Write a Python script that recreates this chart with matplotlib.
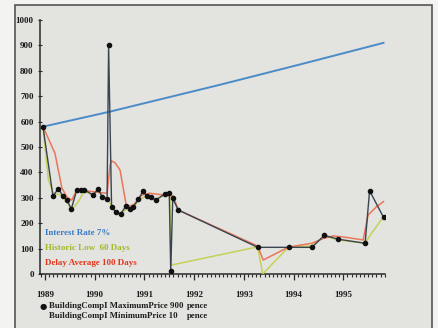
"""
Building company share price with interest rate, historic low and delay average
"""

import matplotlib

matplotlib.use("Agg")
from matplotlib import pyplot as plt
from matplotlib.patches import Rectangle
from matplotlib.ticker import MultipleLocator

# share price in pence, dates as fractional years
PRICE_DATES = [
    1988.96, 1989.16, 1989.27, 1989.36, 1989.44, 1989.53, 1989.64, 1989.72,
    1989.79, 1989.97, 1990.07, 1990.15, 1990.25, 1990.28, 1990.34, 1990.43,
    1990.52, 1990.63, 1990.71, 1990.78, 1990.88, 1990.97, 1991.05, 1991.14,
    1991.23, 1991.41, 1991.50, 1991.53, 1991.57, 1991.68, 1993.28, 1993.90,
    1994.37, 1994.62, 1994.90, 1995.44, 1995.53, 1995.81,
]
PRICE = [
    580, 307, 336, 307, 291, 256, 331, 331,
    331, 311, 336, 303, 295, 900, 263, 243,
    236, 268, 257, 265, 294, 326, 307, 302,
    291, 315, 320, 10, 298, 252, 105, 105,
    105, 152, 137, 121, 328, 223,
]

INTEREST_DATES = [1988.96, 1990.28, 1992.52, 1994.13, 1995.81]
INTEREST = [580, 638, 745, 825, 910]

LOW_DATES = [
    1988.96, 1989.07, 1989.17, 1989.34, 1989.44, 1989.54, 1989.67, 1989.79,
    1989.97, 1990.07, 1990.19, 1990.27, 1990.43, 1990.53, 1990.63, 1990.77,
    1990.91, 1991.03, 1991.21, 1991.41, 1991.51, 1991.54, 1993.28, 1993.38,
    1993.90, 1994.37, 1994.62, 1994.90, 1995.44, 1995.57, 1995.81,
]
LOW = [
    580, 370, 318, 310, 285, 252, 285, 325,
    311, 330, 300, 290, 243, 236, 255, 262,
    295, 305, 292, 312, 318, 35, 107, 0,
    106, 110, 150, 134, 121, 161, 225,
]

AVERAGE_DATES = [
    1988.96, 1989.20, 1989.34, 1989.44, 1989.54, 1989.64, 1989.97, 1990.14,
    1990.25, 1990.31, 1990.34, 1990.41, 1990.51, 1990.64, 1990.78, 1990.95,
    1991.11, 1991.38, 1991.58, 1991.68, 1993.28, 1993.39, 1993.90, 1994.37,
    1994.60, 1994.80, 1995.07, 1995.40, 1995.50, 1995.67, 1995.81,
]
AVERAGE = [
    580, 476, 339, 303, 291, 331, 324, 320,
    318, 430, 445, 438, 409, 265, 272, 311,
    318, 311, 307, 252, 110, 55, 106, 121,
    140, 150, 144, 134, 232, 265, 285,
]

YEARS = [1989, 1990, 1991, 1992, 1993, 1994, 1995]
LEGEND = [
    ("Interest Rate 7%", "#3a7cc4"),
    ("Historic Low  60 Days", "#a6b82c"),
    ("Delay Average 100 Days", "#e2361e"),
]
FOOTER = [
    ("BuildingCompI MaximumPrice 900", "pence"),
    ("BuildingCompI MinimumPrice 10", "pence"),
]

W, H = 439, 328
FONT = ["Liberation Serif", "DejaVu Serif"]


def fx(px: float) -> float:
    """
    Converts a pixel column to figure coordinates
    """
    return px / W


def fy(py: float) -> float:
    """
    Converts a pixel row (from the top) to figure coordinates
    """
    return 1 - py / H


def draw_series(ax):
    """
    Draws the four price lines
    """
    ax.plot(INTEREST_DATES, INTEREST, color="#4a8cc8", lw=1.4, zorder=2)
    ax.plot(LOW_DATES, LOW, color="#c2d048", lw=1.1, alpha=0.9, zorder=3)
    ax.plot(AVERAGE_DATES, AVERAGE, color="#ec6a4a", lw=1.1, alpha=0.9, zorder=3)
    ax.plot(
        PRICE_DATES, PRICE, color="#3a4450", lw=1.0, marker="o", ms=3.0,
        mfc="#111111", mec="#111111", zorder=4,
    )


def style_axes(ax):
    """
    Sets limits, ticks and spines
    """
    ax.set_xlim(1988.90, 1995.84)
    ax.set_ylim(0, 1000)
    ax.patch.set_alpha(0)
    for side in ("top", "right"):
        ax.spines[side].set_visible(False)
    for side in ("left", "bottom"):
        ax.spines[side].set_color("#2a2a2a")
        ax.spines[side].set_linewidth(1.1)

    ax.xaxis.set_major_locator(MultipleLocator(1))
    ax.xaxis.set_minor_locator(MultipleLocator(1 / 12))
    ax.set_xticks(YEARS)
    ax.set_xticklabels([str(y) for y in YEARS])
    ax.set_yticks(range(0, 1001, 100))
    ax.set_yticklabels([str(v) for v in range(0, 1001, 100)])

    ax.tick_params(axis="x", which="major", direction="out", length=4,
                   width=0.9, color="#2a2a2a", pad=8)
    ax.tick_params(axis="x", which="minor", direction="out", length=2.5,
                   width=0.8, color="#2a2a2a")
    ax.tick_params(axis="y", direction="inout", length=3, width=0.8,
                   color="#2a2a2a", pad=3)
    for lab in ax.get_xticklabels() + ax.get_yticklabels():
        lab.set_fontfamily(FONT)
        lab.set_fontweight("bold")
        lab.set_fontsize(6.5)
        lab.set_color("#1a1a1a")


def draw_text(fig):
    """
    Writes the in-chart legend and the footer lines
    """
    for i, (label, color) in enumerate(LEGEND):
        fig.text(fx(45), fy(233 + 15 * i), label, color=color, fontsize=6.5,
                 fontweight="bold", family=FONT, va="center", ha="left")

    fig.text(fx(43), fy(306), "\u25cf", fontsize=6, color="#111111",
             va="center", ha="center", family="DejaVu Sans")
    for i, (name, unit) in enumerate(FOOTER):
        fig.text(fx(49), fy(306 + 10 * i), name, fontsize=6.3, fontweight="bold",
                 family=FONT, color="#1e1e1e", va="center", ha="left")
        fig.text(fx(187), fy(306 + 10 * i), unit, fontsize=6.3, fontweight="bold",
                 family=FONT, color="#1e1e1e", va="center", ha="left")


def main():
    """
    Main function
    """
    fig = plt.figure(figsize=(W / 100, H / 100), dpi=100, facecolor="#f3f3f1")
    fig.patches.append(
        Rectangle((fx(15), -0.02), fx(432) - fx(15), fy(5) + 0.02,
                  transform=fig.transFigure, facecolor="#e3e3e0",
                  edgecolor="#555555", linewidth=1.2, zorder=-1)
    )
    ax = fig.add_axes([fx(40), fy(274), fx(385) - fx(40), fy(20) - fy(274)])
    draw_series(ax)
    style_axes(ax)
    draw_text(fig)
    fig.savefig("out.png", dpi=100, facecolor=fig.get_facecolor())


if __name__ == "__main__":
    main()
